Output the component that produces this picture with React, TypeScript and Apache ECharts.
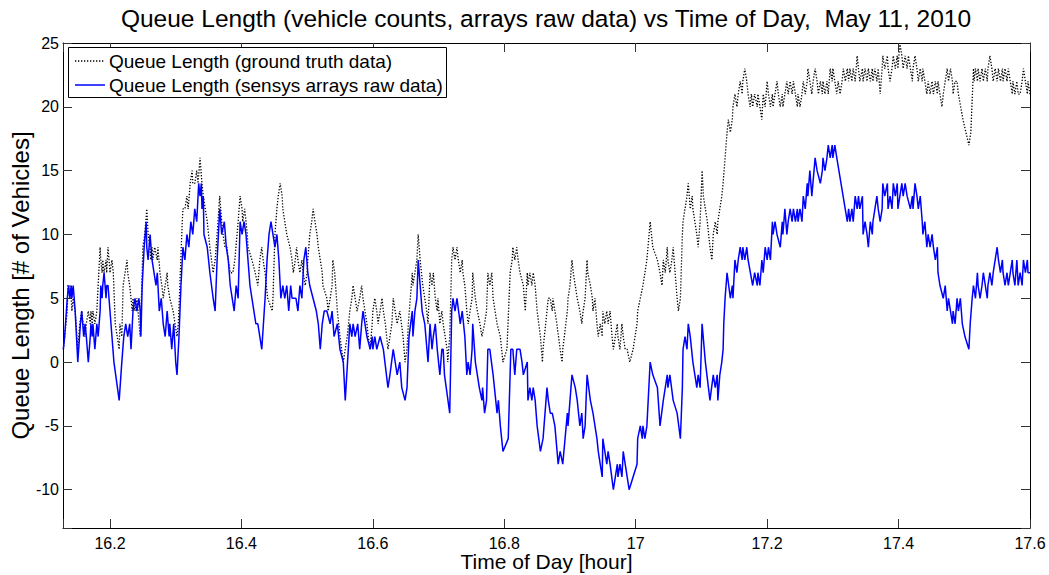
import React, { useEffect, useRef } from "react";
import * as echarts from "echarts";

const TITLE = "Queue Length (vehicle counts, arrays raw data) vs Time of Day,  May 11, 2010";
const X_NAME = "Time of Day [hour]";
const Y_NAME = "Queue Length [# of Vehicles]";
const LEGEND_TRUTH = "Queue Length (ground truth data)";
const LEGEND_SENSYS = "Queue Length (sensys arrays raw data)";
const X_RANGE = [16.1285, 17.6];
const Y_RANGE = [-13, 25];
const X_STEP = 0.2;
const Y_STEP = 5;

// [time of day (hour), queue length (vehicles)]
const truth: number[][] = [
[16.129,1],[16.131,2],[16.135,4],[16.136,6],[16.139,6],[16.141,5],[16.142,4],[16.144,5],[16.147,4],[16.151,1],[16.154,3],[16.157,4],[16.159,3],[16.162,2],[16.164,3],[16.167,4],[16.170,3],[16.171,4],[16.173,3],[16.174,4],[16.177,3],[16.180,4],[16.182,6],[16.185,9],[16.186,8],[16.188,7],[16.189,8],[16.191,7],[16.194,8],[16.195,7],[16.197,9],[16.200,7],[16.203,8],[16.205,7],[16.208,3],[16.214,1],[16.215,3],[16.218,2],[16.220,6],[16.223,7],[16.226,8],[16.227,7],[16.230,6],[16.234,4],[16.235,5],[16.238,4],[16.241,5],[16.246,2],[16.249,7],[16.250,9],[16.253,10],[16.256,12],[16.258,10],[16.261,9],[16.262,8],[16.264,9],[16.265,8],[16.268,9],[16.272,8],[16.273,9],[16.276,7],[16.279,6],[16.281,5],[16.284,6],[16.287,7],[16.288,6],[16.291,5],[16.296,4],[16.299,3],[16.302,2],[16.304,3],[16.310,11],[16.311,12],[16.314,12],[16.317,13],[16.319,12],[16.322,14],[16.325,15],[16.326,14],[16.329,14],[16.332,15],[16.334,14],[16.337,16],[16.340,14],[16.342,13],[16.348,11],[16.352,9],[16.357,7],[16.360,8],[16.363,10],[16.367,13],[16.370,11],[16.372,10],[16.375,9],[16.378,9],[16.380,8],[16.383,7],[16.387,7],[16.390,8],[16.395,11],[16.398,13],[16.401,12],[16.402,11],[16.405,12],[16.409,10],[16.410,9],[16.416,8],[16.421,7],[16.425,6],[16.428,8],[16.431,9],[16.433,8],[16.436,7],[16.440,5],[16.447,4],[16.448,5],[16.451,10],[16.454,12],[16.456,13],[16.459,14],[16.462,13],[16.463,12],[16.466,11],[16.469,10],[16.474,9],[16.477,8],[16.479,7],[16.482,8],[16.484,9],[16.486,8],[16.489,7],[16.492,8],[16.494,7],[16.497,6],[16.500,7],[16.501,8],[16.504,10],[16.507,11],[16.509,12],[16.512,11],[16.515,10],[16.517,9],[16.520,8],[16.523,7],[16.524,6],[16.530,5],[16.532,4],[16.538,6],[16.539,8],[16.542,7],[16.546,4],[16.550,2],[16.555,0],[16.558,1],[16.561,2],[16.565,4],[16.568,5],[16.570,6],[16.573,5],[16.576,4],[16.580,5],[16.583,6],[16.585,5],[16.591,3],[16.593,2],[16.596,1],[16.599,3],[16.600,4],[16.603,5],[16.606,4],[16.608,3],[16.611,4],[16.614,5],[16.616,4],[16.619,3],[16.623,1],[16.629,3],[16.631,5],[16.634,4],[16.637,3],[16.641,4],[16.646,2],[16.649,0],[16.652,1],[16.654,3],[16.657,5],[16.660,7],[16.661,6],[16.664,7],[16.667,8],[16.669,10],[16.672,8],[16.676,6],[16.682,4],[16.684,3],[16.687,7],[16.690,6],[16.692,7],[16.695,5],[16.698,4],[16.699,5],[16.702,3],[16.705,4],[16.707,3],[16.713,1],[16.714,0],[16.717,2],[16.720,8],[16.722,9],[16.725,8],[16.728,9],[16.730,8],[16.733,7],[16.736,8],[16.737,7],[16.740,6],[16.743,4],[16.745,3],[16.748,4],[16.751,5],[16.752,7],[16.756,5],[16.759,4],[16.763,3],[16.766,2],[16.770,3],[16.773,4],[16.775,7],[16.778,6],[16.781,7],[16.783,5],[16.786,4],[16.789,3],[16.794,2],[16.798,0],[16.804,1],[16.809,7],[16.812,8],[16.813,9],[16.816,8],[16.819,9],[16.821,8],[16.824,7],[16.829,6],[16.832,4],[16.835,7],[16.836,6],[16.839,7],[16.842,6],[16.844,7],[16.847,6],[16.850,4],[16.855,2],[16.858,0],[16.859,1],[16.865,4],[16.867,5],[16.870,5],[16.873,4],[16.874,5],[16.880,3],[16.885,1],[16.888,0],[16.889,1],[16.896,4],[16.897,5],[16.900,6],[16.903,8],[16.905,7],[16.908,6],[16.911,5],[16.915,4],[16.918,3],[16.920,4],[16.923,5],[16.926,8],[16.927,7],[16.931,6],[16.934,5],[16.935,4],[16.938,5],[16.941,3],[16.943,2],[16.946,3],[16.949,2],[16.950,4],[16.953,3],[16.956,4],[16.958,3],[16.961,4],[16.964,2],[16.966,1],[16.969,2],[16.972,3],[16.973,2],[16.976,1],[16.979,3],[16.981,2],[16.984,1],[16.987,1],[16.991,0],[16.996,1],[17.002,3],[17.003,4],[17.007,5],[17.011,6],[17.017,8],[17.022,11],[17.026,9],[17.033,8],[17.037,7],[17.040,6],[17.042,8],[17.045,7],[17.048,9],[17.049,8],[17.052,7],[17.055,8],[17.057,9],[17.060,7],[17.063,5],[17.065,4],[17.068,5],[17.071,10],[17.072,11],[17.075,12],[17.078,13],[17.080,14],[17.083,12],[17.086,13],[17.087,12],[17.090,11],[17.093,10],[17.095,9],[17.098,11],[17.101,15],[17.103,13],[17.106,12],[17.109,11],[17.113,9],[17.116,8],[17.118,10],[17.121,11],[17.124,10],[17.125,11],[17.128,12],[17.131,13],[17.133,14],[17.136,16],[17.139,18],[17.141,19],[17.144,18],[17.147,19],[17.148,20],[17.151,21],[17.154,20],[17.156,21],[17.159,22],[17.162,21],[17.163,22],[17.166,23],[17.169,22],[17.171,21],[17.174,20],[17.176,21],[17.178,20],[17.181,21],[17.185,20],[17.186,21],[17.189,20],[17.192,19],[17.194,21],[17.197,20],[17.200,22],[17.202,21],[17.205,20],[17.208,21],[17.209,20],[17.212,21],[17.215,22],[17.217,21],[17.220,20],[17.223,21],[17.224,20],[17.227,21],[17.230,22],[17.232,21],[17.235,22],[17.238,21],[17.240,22],[17.243,21],[17.246,20],[17.247,21],[17.250,20],[17.253,21],[17.255,22],[17.258,21],[17.261,22],[17.262,23],[17.265,22],[17.268,21],[17.270,22],[17.273,23],[17.276,22],[17.278,21],[17.281,22],[17.284,21],[17.285,22],[17.288,21],[17.291,22],[17.293,21],[17.296,23],[17.299,22],[17.300,23],[17.303,22],[17.306,21],[17.308,22],[17.311,21],[17.314,22],[17.316,23],[17.319,22],[17.322,23],[17.324,22],[17.326,23],[17.329,22],[17.331,23],[17.334,22],[17.337,24],[17.339,23],[17.341,22],[17.345,23],[17.346,22],[17.349,23],[17.352,22],[17.354,23],[17.357,22],[17.360,23],[17.361,22],[17.364,23],[17.367,22],[17.369,23],[17.372,21],[17.375,23],[17.376,24],[17.379,23],[17.383,24],[17.384,23],[17.387,22],[17.390,23],[17.392,24],[17.395,23],[17.398,24],[17.399,23],[17.402,25],[17.405,24],[17.407,23],[17.410,24],[17.413,23],[17.415,24],[17.418,23],[17.421,22],[17.422,23],[17.425,24],[17.428,23],[17.430,22],[17.433,23],[17.436,22],[17.437,23],[17.440,22],[17.443,21],[17.445,22],[17.448,21],[17.451,22],[17.453,21],[17.456,22],[17.459,21],[17.460,22],[17.463,21],[17.466,20],[17.468,21],[17.471,22],[17.474,23],[17.476,22],[17.479,23],[17.482,22],[17.483,21],[17.486,22],[17.489,22],[17.491,21],[17.498,19],[17.507,17],[17.510,18],[17.514,23],[17.515,22],[17.517,23],[17.520,22],[17.521,23],[17.524,22],[17.527,23],[17.529,22],[17.532,23],[17.535,22],[17.536,23],[17.539,24],[17.542,23],[17.544,22],[17.547,23],[17.550,22],[17.552,23],[17.555,22],[17.558,23],[17.559,22],[17.562,23],[17.565,22],[17.567,23],[17.570,22],[17.573,21],[17.574,22],[17.577,21],[17.580,22],[17.582,21],[17.585,21],[17.588,22],[17.590,23],[17.593,22],[17.596,21],[17.597,22],[17.600,21]
];

const sensys: number[][] = [
[16.129,1],[16.131,2],[16.135,5],[16.137,6],[16.139,5],[16.141,6],[16.142,5],[16.144,6],[16.147,4],[16.151,0],[16.155,3],[16.157,4],[16.160,2],[16.162,3],[16.164,2],[16.167,0],[16.170,2],[16.171,3],[16.173,2],[16.174,3],[16.177,1],[16.180,3],[16.182,2],[16.185,4],[16.186,6],[16.188,5],[16.189,6],[16.191,7],[16.194,5],[16.195,6],[16.197,6],[16.200,4],[16.206,0],[16.214,-3],[16.218,0],[16.221,2],[16.224,3],[16.227,2],[16.230,3],[16.232,1],[16.235,4],[16.238,5],[16.241,4],[16.244,5],[16.246,4],[16.247,2],[16.249,6],[16.252,9],[16.255,11],[16.256,9],[16.258,8],[16.261,10],[16.264,8],[16.267,7],[16.270,6],[16.272,7],[16.275,4],[16.278,5],[16.281,3],[16.284,2],[16.287,4],[16.290,2],[16.291,3],[16.294,1],[16.297,3],[16.300,0],[16.302,-1],[16.305,2],[16.308,6],[16.311,9],[16.314,8],[16.317,10],[16.320,9],[16.323,11],[16.326,10],[16.329,12],[16.332,11],[16.335,14],[16.337,13],[16.339,14],[16.340,12],[16.342,13],[16.343,10],[16.348,9],[16.352,7],[16.357,5],[16.360,4],[16.363,8],[16.367,12],[16.370,10],[16.374,11],[16.377,9],[16.380,8],[16.383,6],[16.386,5],[16.389,4],[16.392,6],[16.395,5],[16.398,11],[16.401,10],[16.404,11],[16.407,10],[16.410,8],[16.413,6],[16.416,5],[16.419,4],[16.422,3],[16.425,3],[16.431,1],[16.436,5],[16.439,8],[16.442,10],[16.445,11],[16.448,10],[16.451,9],[16.454,10],[16.457,8],[16.460,5],[16.463,6],[16.466,5],[16.469,6],[16.472,4],[16.475,6],[16.477,5],[16.483,5],[16.486,4],[16.489,6],[16.492,5],[16.495,8],[16.498,9],[16.501,7],[16.504,6],[16.509,5],[16.514,4],[16.517,3],[16.520,1],[16.523,3],[16.526,4],[16.530,4],[16.535,3],[16.538,4],[16.541,2],[16.546,3],[16.550,1],[16.555,0],[16.558,-3],[16.565,3],[16.568,2],[16.570,3],[16.573,2],[16.577,3],[16.580,1],[16.583,3],[16.585,4],[16.588,3],[16.591,2],[16.596,1],[16.599,2],[16.600,1],[16.603,2],[16.606,1],[16.611,2],[16.616,1],[16.623,-2],[16.626,-1],[16.631,1],[16.634,0],[16.637,-1],[16.641,0],[16.644,-2],[16.649,-3],[16.652,-2],[16.655,2],[16.660,4],[16.661,2],[16.664,4],[16.667,5],[16.669,8],[16.672,6],[16.675,4],[16.679,3],[16.684,0],[16.687,3],[16.690,1],[16.692,2],[16.695,3],[16.698,1],[16.702,-1],[16.705,1],[16.707,1],[16.709,-1],[16.717,-4],[16.720,4],[16.722,5],[16.725,4],[16.728,5],[16.733,3],[16.736,4],[16.740,2],[16.743,-1],[16.745,0],[16.748,-1],[16.751,1],[16.752,3],[16.756,0],[16.759,-1],[16.762,-2],[16.766,-3],[16.767,-2],[16.770,-4],[16.773,-3],[16.775,1],[16.778,1],[16.783,-1],[16.789,-4],[16.791,-3],[16.794,-5],[16.798,-7],[16.806,-6],[16.810,1],[16.813,1],[16.816,-1],[16.819,1],[16.824,1],[16.827,0],[16.829,-1],[16.835,0],[16.836,-3],[16.839,-2],[16.842,-3],[16.844,-2],[16.847,-3],[16.850,-5],[16.855,-7],[16.859,-6],[16.865,-2],[16.867,-3],[16.870,-4],[16.873,-4],[16.877,-5],[16.882,-8],[16.885,-7],[16.889,-8],[16.896,-4],[16.897,-5],[16.900,-3],[16.903,-1],[16.908,-2],[16.911,-3],[16.915,-5],[16.918,-4],[16.920,-6],[16.923,-5],[16.926,-1],[16.931,-3],[16.935,-4],[16.938,-5],[16.941,-6],[16.943,-7],[16.949,-9],[16.950,-6],[16.953,-7],[16.956,-8],[16.958,-7],[16.961,-8],[16.966,-10],[16.969,-9],[16.972,-8],[16.973,-9],[16.976,-8],[16.979,-9],[16.981,-7],[16.984,-8],[16.987,-9],[16.990,-10],[16.996,-9],[17.002,-8],[17.003,-6],[17.007,-5],[17.010,-6],[17.011,-5],[17.014,-6],[17.017,-5],[17.019,-3],[17.022,0],[17.026,-1],[17.033,-2],[17.037,-5],[17.042,-3],[17.048,-1],[17.049,-2],[17.052,-1],[17.057,-3],[17.063,-4],[17.068,-6],[17.071,-2],[17.072,1],[17.075,2],[17.078,1],[17.080,3],[17.083,2],[17.087,0],[17.093,-2],[17.095,-1],[17.098,-2],[17.101,3],[17.106,0],[17.113,-3],[17.118,-1],[17.121,-2],[17.124,-1],[17.125,-3],[17.128,-1],[17.131,0],[17.133,1],[17.134,3],[17.136,5],[17.139,7],[17.144,5],[17.147,6],[17.148,5],[17.151,8],[17.154,7],[17.156,8],[17.159,9],[17.162,8],[17.163,9],[17.166,8],[17.169,9],[17.171,8],[17.178,6],[17.181,7],[17.185,6],[17.186,7],[17.189,6],[17.192,8],[17.194,7],[17.197,9],[17.200,8],[17.202,9],[17.205,8],[17.208,11],[17.209,10],[17.212,11],[17.215,10],[17.220,9],[17.223,11],[17.224,10],[17.227,12],[17.230,10],[17.232,11],[17.235,12],[17.238,11],[17.240,12],[17.243,11],[17.246,12],[17.247,11],[17.250,12],[17.253,11],[17.255,13],[17.258,12],[17.261,14],[17.262,13],[17.265,15],[17.268,13],[17.273,16],[17.276,15],[17.281,14],[17.284,15],[17.285,16],[17.288,15],[17.291,16],[17.293,17],[17.296,16],[17.299,17],[17.300,16],[17.303,17],[17.306,16],[17.322,11],[17.324,12],[17.326,11],[17.329,12],[17.331,11],[17.334,13],[17.337,12],[17.339,13],[17.341,12],[17.345,13],[17.346,10],[17.349,11],[17.352,10],[17.354,9],[17.357,11],[17.360,10],[17.361,11],[17.364,12],[17.367,13],[17.369,12],[17.372,11],[17.375,12],[17.376,14],[17.379,13],[17.383,14],[17.384,12],[17.387,13],[17.390,12],[17.392,14],[17.395,13],[17.398,14],[17.399,12],[17.402,13],[17.405,14],[17.407,13],[17.410,14],[17.413,13],[17.418,12],[17.421,13],[17.422,12],[17.425,14],[17.428,13],[17.430,12],[17.433,13],[17.436,11],[17.437,10],[17.440,11],[17.443,9],[17.445,10],[17.448,9],[17.451,10],[17.453,9],[17.456,8],[17.459,9],[17.460,7],[17.463,6],[17.468,5],[17.471,6],[17.474,4],[17.476,5],[17.479,4],[17.482,3],[17.483,4],[17.486,3],[17.489,5],[17.491,4],[17.494,5],[17.497,3],[17.501,2],[17.507,1],[17.509,3],[17.512,5],[17.514,6],[17.517,5],[17.520,7],[17.521,6],[17.524,5],[17.527,6],[17.529,7],[17.532,6],[17.535,5],[17.536,6],[17.539,7],[17.542,6],[17.544,7],[17.547,8],[17.550,9],[17.552,8],[17.555,7],[17.558,8],[17.559,7],[17.562,6],[17.565,7],[17.567,6],[17.570,7],[17.573,8],[17.574,7],[17.577,6],[17.580,8],[17.582,6],[17.585,7],[17.588,6],[17.590,8],[17.593,7],[17.596,8],[17.597,7],[17.600,7]
];

const FONT = "'Liberation Sans', Arial, Helvetica, sans-serif";
const TRUTH_COLOR = "#000";
const SENSYS_COLOR = "#0000ff";
const TRUTH_DASH = [1.3, 1.7];

const isMultiple = (v: number, step: number) => Math.abs(v / step - Math.round(v / step)) < 1e-6;
const fmtX = (v: number) => (isMultiple(v, X_STEP) ? String(+(Math.round(v / X_STEP) * X_STEP).toFixed(1)) : "");
const fmtY = (v: number) => (isMultiple(v, Y_STEP) ? String(Math.round(v / Y_STEP) * Y_STEP) : "");

export default function App() {
  const ref = useRef<HTMLDivElement>(null);
  useEffect(() => {
    if (!ref.current) return;
    const chart = echarts.init(ref.current, undefined, { renderer: "svg" });
    const tick = { show: true, inside: true, length: 9, lineStyle: { color: "#333", width: 1 } };
    const line = { show: true, onZero: false, lineStyle: { color: "#000", width: 1 } };
    const baseX = {
      type: "value",
      min: X_RANGE[0],
      max: X_RANGE[1],
      minInterval: X_STEP,
      maxInterval: X_STEP,
      splitLine: { show: false },
      axisLine: line,
      axisTick: tick,
    };
    const baseY = {
      type: "value",
      min: Y_RANGE[0],
      max: Y_RANGE[1],
      minInterval: Y_STEP,
      maxInterval: Y_STEP,
      splitLine: { show: false },
      axisLine: line,
      axisTick: tick,
    };
    // legend box drawn as graphic (MATLAB style: plain line samples, no markers)
    const legendBox = { x: 68, y: 47, w: 378, h: 50 };
    const rowY = [61, 85];
    chart.setOption({
      animation: false,
      backgroundColor: "#fff",
      title: {
        text: TITLE,
        left: 546,
        top: 6,
        padding: 0,
        textAlign: "center",
        textStyle: { fontSize: 24.5, fontWeight: "normal", color: "#000", fontFamily: FONT },
      },
      grid: { left: 63, right: 19, top: 43, bottom: 47, containLabel: false, outerBoundsMode: "none" },
      xAxis: [
        {
          ...baseX,
          position: "bottom",
          axisLabel: { show: true, color: "#000", fontSize: 16, fontFamily: FONT, margin: 7, formatter: fmtX },
          name: X_NAME,
          nameLocation: "middle",
          nameGap: 23,
          nameMoveOverlap: false,
          nameTextStyle: { fontSize: 21, color: "#000", fontFamily: FONT },
        },
        { ...baseX, position: "top", axisLabel: { show: false } },
      ],
      yAxis: [
        {
          ...baseY,
          position: "left",
          axisLabel: { show: true, color: "#000", fontSize: 16, fontFamily: FONT, margin: 4, formatter: fmtY },
          name: Y_NAME,
          nameLocation: "middle",
          nameGap: 31,
          nameMoveOverlap: false,
          nameTextStyle: { fontSize: 24, color: "#000", fontFamily: FONT },
        },
        { ...baseY, position: "right", axisLabel: { show: false } },
      ],
      graphic: [
        {
          type: "rect",
          z: 100,
          shape: { x: legendBox.x + 0.5, y: legendBox.y + 0.5, width: legendBox.w, height: legendBox.h },
          style: { fill: "#fff", stroke: "#000", lineWidth: 1 },
        },
        {
          type: "line",
          z: 101,
          shape: { x1: 75, y1: rowY[0], x2: 105, y2: rowY[0] },
          style: { stroke: TRUTH_COLOR, lineWidth: 1.3, lineDash: TRUTH_DASH },
        },
        {
          type: "line",
          z: 101,
          shape: { x1: 75, y1: rowY[1], x2: 105, y2: rowY[1] },
          style: { stroke: SENSYS_COLOR, lineWidth: 1.5 },
        },
        {
          type: "text",
          z: 101,
          x: 109,
          y: rowY[0],
          style: { text: LEGEND_TRUTH, fontSize: 19, fontFamily: FONT, fill: "#000", verticalAlign: "middle", align: "left" },
        },
        {
          type: "text",
          z: 101,
          x: 109,
          y: rowY[1],
          style: { text: LEGEND_SENSYS, fontSize: 19, fontFamily: FONT, fill: "#000", verticalAlign: "middle", align: "left" },
        },
      ],
      series: [
        {
          name: LEGEND_TRUTH,
          type: "line",
          xAxisIndex: 0,
          yAxisIndex: 0,
          data: truth,
          symbol: "none",
          showSymbol: false,
          silent: true,
          lineStyle: { color: TRUTH_COLOR, width: 1.3, type: TRUTH_DASH },
          itemStyle: { color: TRUTH_COLOR },
          emphasis: { disabled: true },
        },
        {
          name: LEGEND_SENSYS,
          type: "line",
          xAxisIndex: 0,
          yAxisIndex: 0,
          data: sensys,
          symbol: "none",
          showSymbol: false,
          silent: true,
          lineStyle: { color: SENSYS_COLOR, width: 1.5 },
          itemStyle: { color: SENSYS_COLOR },
          emphasis: { disabled: true },
        },
      ],
    });
    return () => chart.dispose();
  }, []);
  return (
    <div
      ref={ref}
      style={{ position: "fixed", left: 0, top: 0, width: 1049, height: 575, background: "#fff" }}
    />
  );
}
